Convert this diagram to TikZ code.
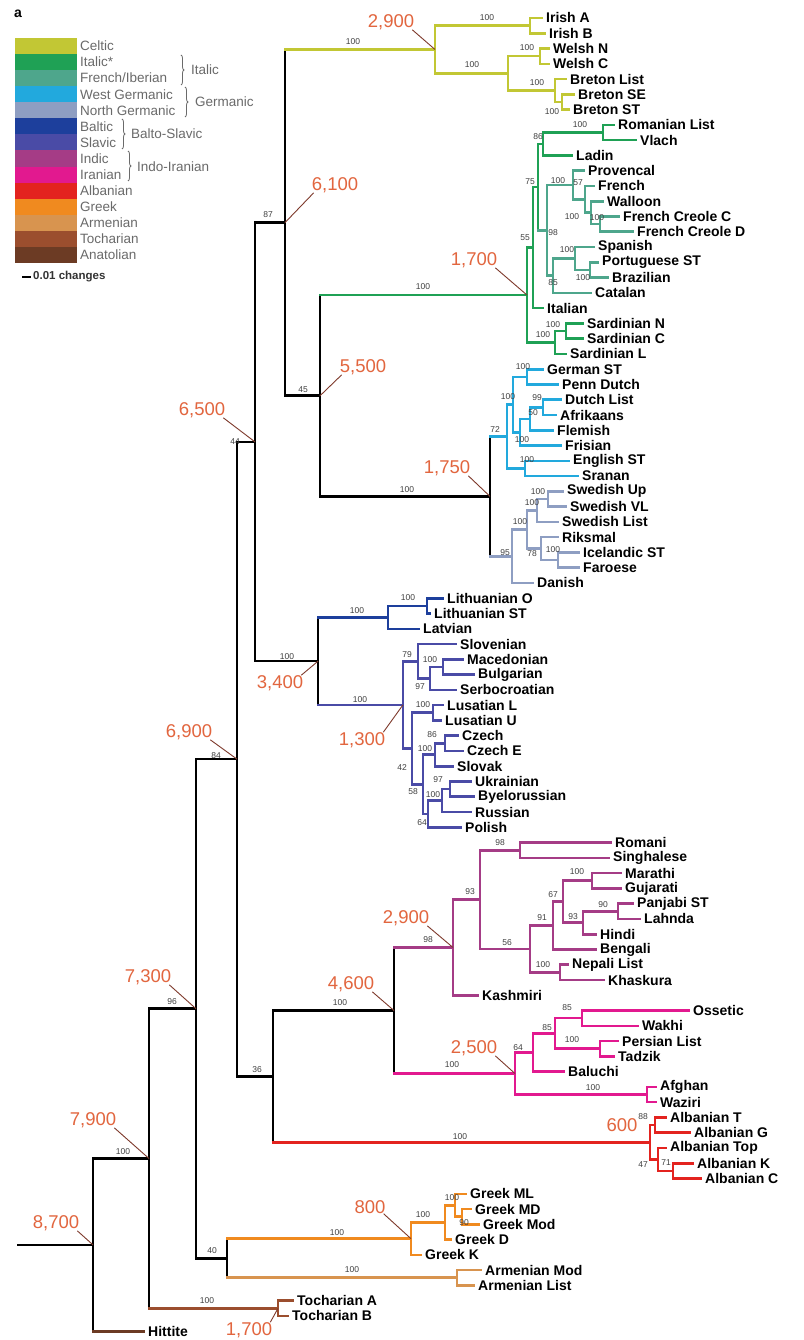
\documentclass[tikz,border=0pt]{standalone}
\usepackage{fontspec}
\setmainfont{Liberation Sans}
\usetikzlibrary{decorations.pathreplacing}
\definecolor{celtic}{HTML}{C2C734}
\definecolor{italic}{HTML}{1FA155}
\definecolor{frib}{HTML}{4EA68C}
\definecolor{wger}{HTML}{22A9DD}
\definecolor{nger}{HTML}{8E9EC2}
\definecolor{baltic}{HTML}{1D3F9C}
\definecolor{slavic}{HTML}{4A4BA6}
\definecolor{indic}{HTML}{A53C86}
\definecolor{iran}{HTML}{E2198F}
\definecolor{alb}{HTML}{E3231F}
\definecolor{greek}{HTML}{F08A1F}
\definecolor{armen}{HTML}{D8944F}
\definecolor{tochar}{HTML}{9B4E2E}
\definecolor{anatol}{HTML}{6C3B24}
\definecolor{datec}{HTML}{E2663F}
\definecolor{leadc}{HTML}{7E3A2C}
\definecolor{legtext}{HTML}{6A6A6A}
\newcommand\cladeC[4]{\draw[br,#1] (#2 |- #3) -- (#3) (#2 |- #4) -- (#4) (#2 |- #3) -- (#2 |- #4);}
\newcommand\vertC[4]{\draw[br,#1] (#2 |- #3) -- (#2 |- #4);}
\newcommand\edgeC[3]{\draw[br,#1] (#2 |- #3) -- (#3);}
\newcommand\leafC[4]{\coordinate (#1) at (#2,#3); \node[leaflab] (#1t) at (#1) {#4};}
\newcommand\suppC[4]{\node[sv] (#1) at (#2,#3) {#4};}
\begin{document}
\begin{tikzpicture}[x=1pt,y=-1pt,
  br/.style={line width=2.6pt, line cap=rect},
  leaflab/.style={anchor=west, inner sep=0pt, xshift=4pt, font=\fontsize{14}{14}\selectfont\bfseries},
  sv/.style={inner sep=0pt, font=\fontsize{8.5}{8.5}\selectfont, text=black!75},
  dt/.style={inner sep=0pt, font=\fontsize{18.5}{18.5}\selectfont, text=datec},
  ld/.style={draw=leadc, line width=0.9pt},
  lg/.style={anchor=west, inner sep=0pt, font=\fontsize{13.5}{13.5}\selectfont, text=legtext},
  brc/.style={draw=legtext, line width=0.8pt, decorate, decoration={brace, amplitude=3pt}},
]
\useasboundingbox (0,0) rectangle (803,1340);
\fill[white] (0,0) rectangle (803,1340);

% ---------------- legend ----------------
\node[anchor=north west, inner sep=0pt, font=\fontsize{14}{14}\selectfont\bfseries] (lbla) at (14,10) {a};
\foreach \c [count=\i from 0] in {celtic,italic,frib,wger,nger,baltic,slavic,indic,iran,alb,greek,armen,tochar,anatol}
  \fill[\c] (15,{38+16.07*\i}) rectangle (77,{38+16.07*(\i+1)});
\foreach \t [count=\i from 0] in {Celtic,Italic*,French/Iberian,West Germanic,North Germanic,Baltic,Slavic,Indic,Iranian,Albanian,Greek,Armenian,Tocharian,Anatolian}
  \node[lg] (lg\i) at (80,{38+16.07*(\i+0.5)}) {\t};
\draw[brc] (181,55) -- (181,85);
\node[lg] (lgIt) at (191,70) {Italic};
\draw[brc] (185,87) -- (185,117);
\node[lg] (lgGe) at (195,102) {Germanic};
\draw[brc] (122,119) -- (122,149);
\node[lg] (lgBS) at (131,134) {Balto-Slavic};
\draw[brc] (128,151) -- (128,181);
\node[lg] (lgII) at (137,166.6) {Indo-Iranian};
\draw[line width=2.2pt] (22,277) -- (31,277);
\node[anchor=west, inner sep=0pt, font=\fontsize{11.5}{11.5}\selectfont\bfseries, text=black!80] (scl) at (33,277) {0.01 changes};

% ---------------- tree ----------------
\begin{scope}[yshift=-18pt, y=-15.27pt]
% leaves
\leafC{irA}{542}{0}{Irish A}
\leafC{irB}{545}{1}{Irish B}
\leafC{weN}{549}{2}{Welsh N}
\leafC{weC}{549}{3}{Welsh C}
\leafC{brL}{566}{4}{Breton List}
\leafC{brSE}{574}{5}{Breton SE}
\leafC{brST}{569}{6}{Breton ST}
\leafC{rom}{614}{7}{Romanian List}
\leafC{vla}{636}{8}{Vlach}
\leafC{lad}{572}{9}{Ladin}
\leafC{pro}{584}{10}{Provencal}
\leafC{fre}{594}{11}{French}
\leafC{wal}{603}{12}{Walloon}
\leafC{fcc}{619}{13}{French Creole C}
\leafC{fcd}{633}{14}{French Creole D}
\leafC{spa}{594}{15}{Spanish}
\leafC{por}{598}{16}{Portuguese ST}
\leafC{bra}{608}{17}{Brazilian}
\leafC{cat}{591}{18}{Catalan}
\leafC{ita}{543}{19}{Italian}
\leafC{saN}{583}{20}{Sardinian N}
\leafC{saC}{583}{21}{Sardinian C}
\leafC{saL}{566}{22}{Sardinian L}
\leafC{ger}{543}{23}{German ST}
\leafC{pen}{558}{24}{Penn Dutch}
\leafC{dut}{561}{25}{Dutch List}
\leafC{afr}{556}{26}{Afrikaans}
\leafC{fle}{553}{27}{Flemish}
\leafC{fri}{561}{28}{Frisian}
\leafC{eng}{569}{29}{English ST}
\leafC{sra}{578}{30}{Sranan}
\leafC{swU}{563}{31}{Swedish Up}
\leafC{swV}{566}{32}{Swedish VL}
\leafC{swL}{558}{33}{Swedish List}
\leafC{rik}{558}{34}{Riksmal}
\leafC{ice}{579}{35}{Icelandic ST}
\leafC{far}{579}{36}{Faroese}
\leafC{dan}{533}{37}{Danish}
\leafC{liO}{443}{38}{Lithuanian O}
\leafC{liS}{430}{39}{Lithuanian ST}
\leafC{lat}{419}{40}{Latvian}
\leafC{slo}{456}{41}{Slovenian}
\leafC{mac}{463}{42}{Macedonian}
\leafC{bul}{474}{43}{Bulgarian}
\leafC{ser}{456}{44}{Serbocroatian}
\leafC{luL}{443}{45}{Lusatian L}
\leafC{luU}{441}{46}{Lusatian U}
\leafC{cze}{458}{47}{Czech}
\leafC{czE}{463}{48}{Czech E}
\leafC{slk}{453}{49}{Slovak}
\leafC{ukr}{471}{50}{Ukrainian}
\leafC{bye}{474}{51}{Byelorussian}
\leafC{rus}{471}{52}{Russian}
\leafC{pol}{461}{53}{Polish}
\leafC{rmi}{611}{54}{Romani}
\leafC{sin}{609}{55}{Singhalese}
\leafC{mar}{621}{56}{Marathi}
\leafC{guj}{621}{57}{Gujarati}
\leafC{pan}{633}{58}{Panjabi ST}
\leafC{lah}{640}{59}{Lahnda}
\leafC{hin}{596}{60}{Hindi}
\leafC{ben}{596}{61}{Bengali}
\leafC{nep}{568}{62}{Nepali List}
\leafC{kha}{604}{63}{Khaskura}
\leafC{kas}{478}{64}{Kashmiri}
\leafC{oss}{689}{65}{Ossetic}
\leafC{wak}{638}{66}{Wakhi}
\leafC{per}{618}{67}{Persian List}
\leafC{tad}{614}{68}{Tadzik}
\leafC{bal}{564}{69}{Baluchi}
\leafC{afg}{656}{70}{Afghan}
\leafC{waz}{656}{71}{Waziri}
\leafC{alT}{666}{72}{Albanian T}
\leafC{alG}{690}{73}{Albanian G}
\leafC{alP}{666}{74}{Albanian Top}
\leafC{alK}{693}{75}{Albanian K}
\leafC{alC}{701}{76}{Albanian C}
\leafC{gML}{466}{77}{Greek ML}
\leafC{gMD}{471}{78}{Greek MD}
\leafC{gMo}{479}{79}{Greek Mod}
\leafC{gD}{451}{80}{Greek D}
\leafC{gK}{421}{81}{Greek K}
\leafC{arM}{481}{82}{Armenian Mod}
\leafC{arL}{474}{83}{Armenian List}
\leafC{toA}{293}{84}{Tocharian A}
\leafC{toB}{288}{85}{Tocharian B}
\leafC{hit}{144}{86}{Hittite}
% internal nodes
\coordinate (R0) at (18,80.345);
\coordinate (A) at (93,80.345);
\coordinate (B) at (149,74.69);
\coordinate (C) at (196,64.88);
\coordinate (D) at (237,48.535);
\coordinate (E) at (273,69.31);
\coordinate (F) at (255,27.76);
\coordinate (G) at (285,13.4);
\coordinate (J) at (320,24.74);
\coordinate (GA) at (227,81.22);
\coordinate (BS) at (318,42.12);
\coordinate (II) at (394,65.0);
\coordinate (GG) at (490,31.33);
\coordinate (T) at (278,84.5);
\coordinate (H) at (435,2.0625);
\coordinate (IRn) at (530,0.5);
\coordinate (I) at (508,3.625);
\coordinate (WEL) at (540,2.5);
\coordinate (BR) at (555,4.75);
\coordinate (BR2) at (562,5.5);
\coordinate (K) at (527,18.145);
\coordinate (L) at (533,15.04);
\coordinate (M) at (538,11.08);
\coordinate (N) at (543,8.25);
\coordinate (P) at (603,7.5);
\coordinate (O) at (547,13.9);
\coordinate (Q) at (573,10.94);
\coordinate (T2) at (585,11.875);
\coordinate (U) at (591,12.75);
\coordinate (V) at (600,13.5);
\coordinate (S) at (553,16.875);
\coordinate (W) at (575,15.75);
\coordinate (X) at (590,16.5);
\coordinate (SA) at (555,21.25);
\coordinate (SNC) at (566,20.5);
\coordinate (WG) at (507,27.41);
\coordinate (AA) at (513,25.31);
\coordinate (CC) at (527,23.5);
\coordinate (DD) at (520,27.125);
\coordinate (EE) at (530,26.25);
\coordinate (FF) at (543,25.5);
\coordinate (EN) at (525,29.5);
\coordinate (NG) at (512,35.25);
\coordinate (HH) at (527,33.5);
\coordinate (SW) at (537,32.25);
\coordinate (SW1) at (548,31.5);
\coordinate (II2) at (541,34.75);
\coordinate (JJ) at (558,35.5);
\coordinate (BA) at (388,39.25);
\coordinate (LI) at (427,38.5);
\coordinate (SL) at (403,44.98);
\coordinate (SS) at (418,42.125);
\coordinate (MBS) at (430,43.25);
\coordinate (MB) at (443,42.5);
\coordinate (WE) at (412,47.84);
\coordinate (LU) at (433,45.5);
\coordinate (YY) at (423,50.19);
\coordinate (CzS) at (435,48.25);
\coordinate (CZ) at (445,47.5);
\coordinate (QQ) at (428,52.125);
\coordinate (UBR) at (442,51.25);
\coordinate (UB) at (450,50.5);
\coordinate (IN) at (453,60.87);
\coordinate (IK) at (480,57.735);
\coordinate (RS) at (520,54.5);
\coordinate (MI) at (530,60.97);
\coordinate (M2) at (553,59.44);
\coordinate (M3) at (563,57.875);
\coordinate (MG) at (592,56.5);
\coordinate (PLH) at (583,59.25);
\coordinate (PL) at (618,58.5);
\coordinate (NK) at (560,62.5);
\coordinate (IR) at (515,69.125);
\coordinate (IR2) at (533,67.75);
\coordinate (IR3) at (555,66.5);
\coordinate (OW) at (582,65.5);
\coordinate (PT) at (600,67.5);
\coordinate (AW) at (647,70.5);
\coordinate (AL) at (650,73.625);
\coordinate (ATG) at (655,72.5);
\coordinate (ATKC) at (658,74.75);
\coordinate (KC) at (673,75.5);
\coordinate (GR) at (411,79.94);
\coordinate (GD) at (445,78.875);
\coordinate (GG1) at (455,77.75);
\coordinate (GG2) at (462,78.5);
\coordinate (AR) at (457,82.5);
% trunk
\draw[br] (R0) -- (A);
\vertC{black}{A}{B}{hit} \edgeC{black}{A}{B} \edgeC{anatol}{A}{hit}
\vertC{black}{B}{C}{T} \edgeC{black}{B}{C} \edgeC{tochar}{B}{T}
\cladeC{tochar}{T}{toA}{toB}
\vertC{black}{C}{D}{GA} \edgeC{black}{C}{D} \edgeC{black}{C}{GA}
\vertC{black}{GA}{GR}{AR} \edgeC{greek}{GA}{GR} \edgeC{armen}{GA}{AR}
\cladeC{greek}{GR}{GD}{gK}
\cladeC{greek}{GD}{GG1}{gD}
\cladeC{greek}{GG1}{gML}{GG2}
\cladeC{greek}{GG2}{gMD}{gMo}
\cladeC{armen}{AR}{arM}{arL}
\vertC{black}{D}{F}{E} \edgeC{black}{D}{F} \edgeC{black}{D}{E}
\vertC{black}{E}{II}{AL} \edgeC{black}{E}{II} \edgeC{alb}{E}{AL}
\cladeC{alb}{AL}{ATG}{ATKC}
\cladeC{alb}{ATG}{alT}{alG}
\cladeC{alb}{ATKC}{alP}{KC}
\cladeC{alb}{KC}{alK}{alC}
\vertC{black}{II}{IN}{IR} \edgeC{indic}{II}{IN} \edgeC{iran}{II}{IR}
\cladeC{indic}{IN}{IK}{kas}
\cladeC{indic}{IK}{RS}{MI}
\cladeC{indic}{RS}{rmi}{sin}
\cladeC{indic}{MI}{M2}{NK}
\cladeC{indic}{M2}{M3}{ben}
\cladeC{indic}{M3}{MG}{PLH}
\cladeC{indic}{MG}{mar}{guj}
\cladeC{indic}{PLH}{PL}{hin}
\cladeC{indic}{PL}{pan}{lah}
\cladeC{indic}{NK}{nep}{kha}
\cladeC{iran}{IR}{IR2}{AW}
\cladeC{iran}{IR2}{IR3}{bal}
\cladeC{iran}{IR3}{OW}{PT}
\cladeC{iran}{OW}{oss}{wak}
\cladeC{iran}{PT}{per}{tad}
\cladeC{iran}{AW}{afg}{waz}
\vertC{black}{F}{G}{BS} \edgeC{black}{F}{G} \edgeC{black}{F}{BS}
\vertC{black}{BS}{BA}{SL} \edgeC{baltic}{BS}{BA} \edgeC{slavic}{BS}{SL}
\cladeC{baltic}{BA}{LI}{lat}
\cladeC{baltic}{LI}{liO}{liS}
\cladeC{slavic}{SL}{SS}{WE}
\cladeC{slavic}{SS}{slo}{MBS}
\cladeC{slavic}{MBS}{MB}{ser}
\cladeC{slavic}{MB}{mac}{bul}
\cladeC{slavic}{WE}{LU}{YY}
\cladeC{slavic}{LU}{luL}{luU}
\cladeC{slavic}{YY}{CzS}{QQ}
\cladeC{slavic}{CzS}{CZ}{slk}
\cladeC{slavic}{CZ}{cze}{czE}
\cladeC{slavic}{QQ}{UBR}{pol}
\cladeC{slavic}{UBR}{UB}{rus}
\cladeC{slavic}{UB}{ukr}{bye}
\vertC{black}{G}{H}{J} \edgeC{celtic}{G}{H} \edgeC{black}{G}{J}
\cladeC{celtic}{H}{IRn}{I}
\cladeC{celtic}{IRn}{irA}{irB}
\cladeC{celtic}{I}{WEL}{BR}
\cladeC{celtic}{WEL}{weN}{weC}
\cladeC{celtic}{BR}{brL}{BR2}
\cladeC{celtic}{BR2}{brSE}{brST}
\vertC{black}{J}{K}{GG} \edgeC{italic}{J}{K} \edgeC{black}{J}{GG}
\cladeC{italic}{K}{L}{SA}
\cladeC{italic}{L}{M}{ita}
\vertC{italic}{M}{N}{O} \edgeC{italic}{M}{N} \edgeC{frib}{M}{O}
\cladeC{italic}{N}{P}{lad}
\cladeC{italic}{P}{rom}{vla}
\cladeC{frib}{O}{Q}{S}
\cladeC{frib}{Q}{pro}{T2}
\cladeC{frib}{T2}{fre}{U}
\cladeC{frib}{U}{wal}{V}
\cladeC{frib}{V}{fcc}{fcd}
\cladeC{frib}{S}{W}{cat}
\cladeC{frib}{W}{spa}{X}
\cladeC{frib}{X}{por}{bra}
\cladeC{italic}{SA}{SNC}{saL}
\cladeC{italic}{SNC}{saN}{saC}
\vertC{black}{GG}{WG}{NG} \edgeC{wger}{GG}{WG} \edgeC{nger}{GG}{NG}
\cladeC{wger}{WG}{AA}{EN}
\cladeC{wger}{AA}{CC}{DD}
\cladeC{wger}{CC}{ger}{pen}
\cladeC{wger}{DD}{EE}{fri}
\cladeC{wger}{EE}{FF}{fle}
\cladeC{wger}{FF}{dut}{afr}
\cladeC{wger}{EN}{eng}{sra}
\cladeC{nger}{NG}{HH}{dan}
\cladeC{nger}{HH}{SW}{II2}
\cladeC{nger}{SW}{SW1}{swL}
\cladeC{nger}{SW1}{swU}{swV}
\cladeC{nger}{II2}{rik}{JJ}
\cladeC{nger}{JJ}{ice}{far}
\end{scope}

% ---------------- support values ----------------
\suppC{s1}{268}{215}{87}
\suppC{s2}{353}{42}{100}
\suppC{s3}{487}{18}{100}
\suppC{s4}{472}{65}{100}
\suppC{s5}{527}{48}{100}
\suppC{s6}{537}{83}{100}
\suppC{s7}{552}{112}{100}
\suppC{s8}{423}{287}{100}
\suppC{s9}{538}{137}{86}
\suppC{s10}{580}{125}{100}
\suppC{s11}{530}{182}{75}
\suppC{s12}{525}{238}{55}
\suppC{s13}{558}{181}{100}
\suppC{s14}{578}{183}{57}
\suppC{s15}{572}{217}{100}
\suppC{s16}{597}{218}{100}
\suppC{s17}{553}{233}{98}
\suppC{s18}{567}{250}{100}
\suppC{s19}{583}{278}{100}
\suppC{s20}{553}{283}{85}
\suppC{s21}{553}{325}{100}
\suppC{s22}{543}{335}{100}
\suppC{s23}{303}{390}{45}
\suppC{s24}{407}{490}{100}
\suppC{s25}{495}{430}{72}
\suppC{s26}{523}{367}{100}
\suppC{s27}{508}{397}{100}
\suppC{s28}{537}{398}{99}
\suppC{s29}{533}{413}{50}
\suppC{s30}{522}{440}{100}
\suppC{s31}{527}{460}{100}
\suppC{s32}{505}{553}{95}
\suppC{s33}{538}{492}{100}
\suppC{s34}{532}{503}{100}
\suppC{s35}{520}{522}{100}
\suppC{s36}{553}{550}{100}
\suppC{s37}{532}{554}{78}
\suppC{s38}{235}{442}{44}
\suppC{s39}{287}{657}{100}
\suppC{s40}{357}{611}{100}
\suppC{s41}{408}{598}{100}
\suppC{s42}{360}{700}{100}
\suppC{s43}{407}{655}{79}
\suppC{s44}{430}{660}{100}
\suppC{s45}{420}{687}{97}
\suppC{s46}{402}{768}{42}
\suppC{s47}{423}{705}{100}
\suppC{s48}{432}{735}{86}
\suppC{s49}{425}{749}{100}
\suppC{s50}{438}{780}{97}
\suppC{s51}{413}{792}{58}
\suppC{s52}{433}{795}{100}
\suppC{s53}{422}{823}{64}
\suppC{s54}{216}{756}{84}
\suppC{s55}{172}{1002}{96}
\suppC{s56}{257}{1070}{36}
\suppC{s57}{340}{1003}{100}
\suppC{s58}{428}{940}{98}
\suppC{s59}{470}{892}{93}
\suppC{s60}{500}{843}{98}
\suppC{s61}{507}{943}{56}
\suppC{s62}{542}{918}{91}
\suppC{s63}{553}{895}{67}
\suppC{s64}{577}{872}{100}
\suppC{s65}{573}{917}{93}
\suppC{s66}{603}{905}{90}
\suppC{s67}{543}{965}{100}
\suppC{s68}{452}{1065}{100}
\suppC{s69}{518}{1048}{64}
\suppC{s70}{547}{1028}{85}
\suppC{s71}{567}{1008}{85}
\suppC{s72}{572}{1040}{100}
\suppC{s73}{593}{1088}{100}
\suppC{s74}{460}{1137}{100}
\suppC{s75}{643}{1117}{88}
\suppC{s76}{643}{1165}{47}
\suppC{s77}{666}{1163}{71}
\suppC{s78}{212}{1251}{40}
\suppC{s79}{337}{1233}{100}
\suppC{s80}{423}{1215}{100}
\suppC{s81}{452}{1198}{100}
\suppC{s82}{464}{1223}{90}
\suppC{s83}{352}{1270}{100}
\suppC{s84}{207}{1301}{100}
\suppC{s85}{123}{1152}{100}

% ---------------- divergence dates ----------------
\node[dt] (d1) at (391,22) {2,900};
\node[dt] (d2) at (335,185) {6,100};
\node[dt] (d3) at (474,260) {1,700};
\node[dt] (d4) at (363,367) {5,500};
\node[dt] (d5) at (447,468) {1,750};
\node[dt] (d6) at (202,410) {6,500};
\node[dt] (d7) at (280,683) {3,400};
\node[dt] (d8) at (362,740) {1,300};
\node[dt] (d9) at (189,732) {6,900};
\node[dt] (d10) at (406,918) {2,900};
\node[dt] (d11) at (351,984) {4,600};
\node[dt] (d12) at (474,1048) {2,500};
\node[dt] (d13) at (148,977) {7,300};
\node[dt] (d14) at (622,1125) {600};
\node[dt] (d15) at (93,1120) {7,900};
\node[dt] (d16) at (370,1207) {800};
\node[dt] (d17) at (56,1223) {8,700};
\node[dt] (d18) at (249,1330) {1,700};
\draw[ld] ([xshift=-2pt]d1.south east) -- (H);
\draw[ld] ([xshift=2pt]d2.south west) -- (G);
\draw[ld] ([xshift=-2pt]d3.south east) -- (K);
\draw[ld] ([xshift=2pt]d4.south west) -- (J);
\draw[ld] ([xshift=-2pt]d5.south east) -- (GG);
\draw[ld] ([xshift=-2pt]d6.south east) -- (F);
\draw[ld] ([xshift=-2pt]d7.north east) -- (BS);
\draw[ld] ([xshift=-2pt]d8.north east) -- (SL);
\draw[ld] ([xshift=-2pt]d9.south east) -- (D);
\draw[ld] ([xshift=-2pt]d10.south east) -- (IN);
\draw[ld] ([xshift=-2pt]d11.south east) -- (II);
\draw[ld] ([xshift=-2pt]d12.south east) -- (IR);
\draw[ld] ([xshift=-2pt]d13.south east) -- (C);
\draw[ld] ([xshift=-2pt]d15.south east) -- (B);
\draw[ld] ([xshift=-2pt]d16.south east) -- (GR);
\draw[ld] ([xshift=-2pt]d17.south east) -- (A);
\draw[ld] ([xshift=-2pt]d18.north east) -- (T);
\end{tikzpicture}
\end{document}
